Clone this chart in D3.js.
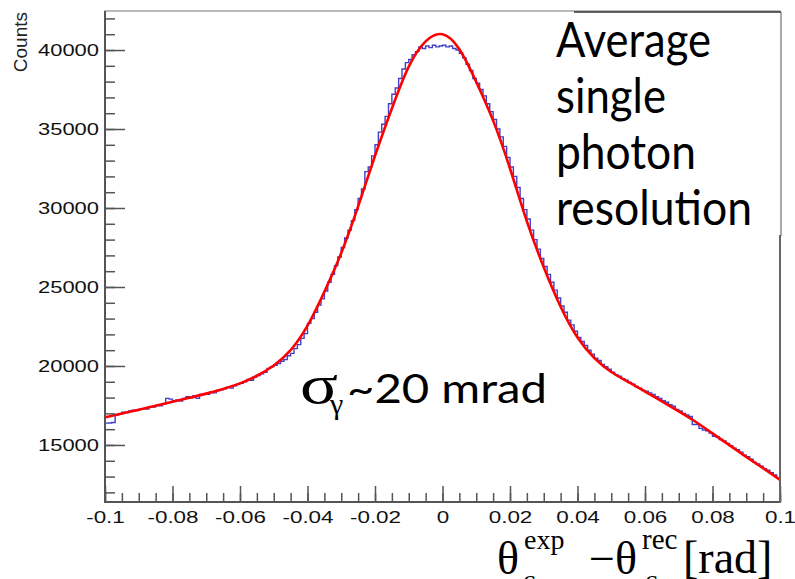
<!DOCTYPE html>
<html>
<head>
<meta charset="utf-8">
<script src="https://d3js.org/d3.v7.min.js"></script>
<style>
  body { margin: 0; background: #fff; }
  svg { display: block; }
</style>
</head>
<body>
<div id="chart"></div>
<script>
// histogram: 200 bins of 1 mrad from -0.1 to 0.1
var binStart = -0.1;
var binWidth = 0.001;
var histCounts = [
  16380, 16390, 16420, 16900, 16950, 17080, 17050, 17150, 17200, 17180,
  17250, 17300, 17280, 17420, 17400, 17500, 17480, 17600, 17950, 17900,
  17800, 17850, 17780, 17950, 18050, 17980, 18100, 17950, 18200, 18250,
  18200, 18350, 18300, 18450, 18500, 18550, 18650, 18600, 18750, 18850,
  18900, 19000, 19150, 19100, 19300, 19400, 19500, 19600, 19850, 19950,
  20050, 20150, 20300, 20400, 20650, 20800, 21100, 21350, 21750, 22050,
  22700, 23000, 23400, 23850, 24250, 24750, 25300, 25800, 26350, 26900,
  27500, 28100, 28600, 29200, 29900, 30600, 31200, 32300, 32600, 33300,
  34000, 34800, 35300, 35800, 36600, 37200, 37600, 38200, 38800, 39200,
  39400, 39700, 39900, 40200, 40100, 40250, 40150, 40300, 40200, 40250,
  40300, 40200, 40250, 40100, 40000, 39800, 39500, 39100, 38700, 38200,
  37900, 37500, 37100, 36600, 36100, 35600, 35000, 34500, 33900, 33200,
  32600, 32000, 31300, 30600, 29900, 29300, 28600, 28000, 27400, 26800,
  26300, 25800, 25300, 24800, 24300, 23800, 23400, 22900, 22600, 22200,
  21800, 21550, 21300, 21000, 20750, 20500, 20350, 20100, 19950, 19800,
  19600, 19450, 19350, 19200, 19100, 18950, 18850, 18700, 18600, 18450,
  18400, 18300, 18200, 18050, 17950, 17800, 17700, 17550, 17450, 17250,
  17150, 17000, 16900, 16800, 16300, 16300, 16050, 15950, 15900, 15750,
  15550, 15500, 15350, 15250, 15100, 14950, 14800, 14700, 14550, 14350,
  14250, 14100, 13900, 13800, 13650, 13500, 13400, 13250, 13100, 12900
];

// fit function, sampled every 5 mrad
var fitX = [
  -0.100, -0.095, -0.090, -0.085, -0.080, -0.075, -0.070, -0.065, -0.060, -0.055,
  -0.050, -0.045, -0.040, -0.035, -0.030, -0.025, -0.020, -0.015, -0.010, -0.005,
   0.000,  0.005,  0.010,  0.015,  0.020,  0.025,  0.030,  0.035,  0.040,  0.045,
   0.050,  0.055,  0.060,  0.065,  0.070,  0.075,  0.080,  0.085,  0.090,  0.095,
   0.100
];
var fitY = [
  16750, 16990, 17230, 17480, 17740, 17990, 18250, 18550, 18900, 19380,
  20030, 21000, 22550, 24700, 27150, 30100, 33300, 36300, 38950, 40550,
  41000, 40050, 37980, 35530, 32500, 29150, 26250, 23750, 21800, 20500,
  19620, 19000, 18380, 17760, 17130, 16470, 15730, 14990, 14250, 13530,
  12800
];

// axis ticks
var yMajorTicks = [15000, 20000, 25000, 30000, 35000, 40000];
var xMajorTicks = [-0.1, -0.08, -0.06, -0.04, -0.02, 0, 0.02, 0.04, 0.06, 0.08, 0.1];
var xTickLabels = ["-0.1", "-0.08", "-0.06", "-0.04", "-0.02", "0", "0.02", "0.04", "0.06", "0.08", "0.1"];

var boxLines = ["Average", "single", "photon", "resolution"];

/*
  D3.js setup code
*/
var width = 795, height = 579;
var svg = d3.select("#chart").append("svg")
  .attr("width", width)
  .attr("height", height);

var x = d3.scaleLinear().domain([-0.1, 0.1]).range([105, 780]);
var y = d3.scaleLinear().domain([11390, 42470]).range([502, 11]);

// frame
svg.append("rect")
  .attr("x", 105).attr("y", 11)
  .attr("width", 675).attr("height", 491)
  .attr("fill", "none")
  .attr("stroke", "#777")
  .attr("stroke-width", 1);

// histogram as a step outline
var histPts = [];
histCounts.forEach(function (c, i) {
  var lo = binStart + i * binWidth;
  histPts.push([lo, c]);
  histPts.push([lo + binWidth, c]);
});
svg.append("path")
  .datum(histPts)
  .attr("fill", "none")
  .attr("stroke", "#4040c8")
  .attr("stroke-width", 1.4)
  .attr("d", d3.line()
    .x(function (d) { return x(d[0]); })
    .y(function (d) { return y(d[1]); }));

// fit curve
svg.append("path")
  .datum(fitX.map(function (v, i) { return [v, fitY[i]]; }))
  .attr("fill", "none")
  .attr("stroke", "#ff0000")
  .attr("stroke-width", 2.6)
  .attr("d", d3.line()
    .curve(d3.curveNatural)
    .x(function (d) { return x(d[0]); })
    .y(function (d) { return y(d[1]); }));

// y axis, ticks pointing inside
var yMinor = d3.range(12000, 42001, 1000);
svg.append("g")
  .attr("transform", "translate(105,0)")
  .call(d3.axisLeft(y).tickValues(yMinor).tickSize(-10).tickFormat(""))
  .call(function (g) { g.select(".domain").remove(); })
  .selectAll("line").attr("stroke", "#555").attr("stroke-width", 1.5);

var yAxis = svg.append("g")
  .attr("transform", "translate(105,0)")
  .call(d3.axisLeft(y).tickValues(yMajorTicks).tickSize(-20).tickPadding(0).tickFormat(d3.format("d")));
yAxis.select(".domain").remove();
yAxis.selectAll("line").attr("stroke", "#555").attr("stroke-width", 1.5);
yAxis.selectAll("text")
  .attr("x", -6 / 1.33)
  .attr("transform", "scale(1.33,1)")
  .style("font-family", "'Liberation Sans', Arial, sans-serif")
  .style("font-size", "16.5px")
  .attr("fill", "#111");

// x axis, ticks pointing up
var xMinor = d3.range(-0.1, 0.1001, 0.005);
svg.append("g")
  .attr("transform", "translate(0,502)")
  .call(d3.axisBottom(x).tickValues(xMinor).tickSize(-9).tickFormat(""))
  .call(function (g) { g.select(".domain").remove(); })
  .selectAll("line").attr("stroke", "#555").attr("stroke-width", 1.5);

var xAxis = svg.append("g")
  .attr("transform", "translate(0,502)")
  .call(d3.axisBottom(x).tickValues(xMajorTicks).tickSize(-16).tickPadding(9)
    .tickFormat(function (d, i) { return xTickLabels[i]; }));
xAxis.select(".domain").remove();
xAxis.selectAll("line").attr("stroke", "#555").attr("stroke-width", 1.5);
xAxis.selectAll("text")
  .attr("transform", "scale(1.36,1)")
  .style("font-family", "'Liberation Sans', Arial, sans-serif")
  .style("font-size", "16.5px")
  .attr("fill", "#111");

// axis lines
svg.append("line").attr("x1", 105).attr("x2", 105).attr("y1", 11).attr("y2", 503)
  .attr("stroke", "#555").attr("stroke-width", 2);
svg.append("line").attr("x1", 104).attr("x2", 780).attr("y1", 502).attr("y2", 502)
  .attr("stroke", "#555").attr("stroke-width", 2);
svg.append("line").attr("x1", 780).attr("x2", 780).attr("y1", 235).attr("y2", 503)
  .attr("stroke", "#666").attr("stroke-width", 2);

// y title
svg.append("text")
  .attr("transform", "translate(27,12) rotate(-90)")
  .attr("text-anchor", "end")
  .style("font-family", "'Liberation Sans', Arial, sans-serif")
  .style("font-size", "19px")
  .attr("fill", "#222")
  .text("Counts");

// text box in the corner
svg.append("rect")
  .attr("x", 548).attr("y", 12).attr("width", 233).attr("height", 223)
  .attr("fill", "#fff");
svg.append("line").attr("x1", 574).attr("x2", 781).attr("y1", 12).attr("y2", 12)
  .attr("stroke", "#333").attr("stroke-width", 1.5);
svg.append("line").attr("x1", 781).attr("x2", 781).attr("y1", 12).attr("y2", 236)
  .attr("stroke", "#555").attr("stroke-width", 1);

var boxWidths = [155, 110, 140, 196];
svg.selectAll("text.box")
  .data(boxLines)
  .enter()
  .append("text")
    .attr("class", "box")
    .attr("x", 556)
    .attr("y", function (d, i) { return 57 + i * 56; })
    .attr("textLength", function (d, i) { return boxWidths[i]; })
    .attr("lengthAdjust", "spacingAndGlyphs")
    .style("font-family", "Lato, 'Open Sans', sans-serif")
    .style("font-size", "48px")
    .attr("fill", "#000")
    .text(function (d) { return d; });

// sigma annotation
svg.append("text")
  .attr("x", 300).attr("y", 403)
  .attr("textLength", 38).attr("lengthAdjust", "spacingAndGlyphs")
  .style("font-family", "'Liberation Serif', 'Times New Roman', serif")
  .style("font-size", "54px")
  .text("σ");
svg.append("text")
  .attr("x", 330).attr("y", 414)
  .style("font-family", "'Liberation Serif', 'Times New Roman', serif")
  .style("font-size", "30px")
  .text("γ");
svg.append("text")
  .attr("x", 347).attr("y", 403)
  .attr("textLength", 200).attr("lengthAdjust", "spacingAndGlyphs")
  .style("font-family", "Lato, 'Open Sans', sans-serif")
  .style("font-size", "40px")
  .text("~20 mrad");

// x title: theta_c^exp - theta_c^rec [rad]
var serif = "'Liberation Serif', 'Times New Roman', serif";
var xt = [
  { t: "θ", x: 497, y: 574, s: 46 },
  { t: "exp", x: 524, y: 549, s: 28 },
  { t: "c", x: 523, y: 589, s: 28 },
  { t: "−", x: 589, y: 574, s: 46 },
  { t: "θ", x: 615, y: 574, s: 46 },
  { t: "rec", x: 642, y: 549, s: 29 },
  { t: "c", x: 645, y: 589, s: 28 },
  { t: "[rad]", x: 683, y: 573, s: 46 }
];
svg.selectAll("text.xt")
  .data(xt)
  .enter()
  .append("text")
    .attr("class", "xt")
    .attr("x", function (d) { return d.x; })
    .attr("y", function (d) { return d.y; })
    .style("font-family", serif)
    .style("font-size", function (d) { return d.s + "px"; })
    .text(function (d) { return d.t; });
</script>
</body>
</html>
